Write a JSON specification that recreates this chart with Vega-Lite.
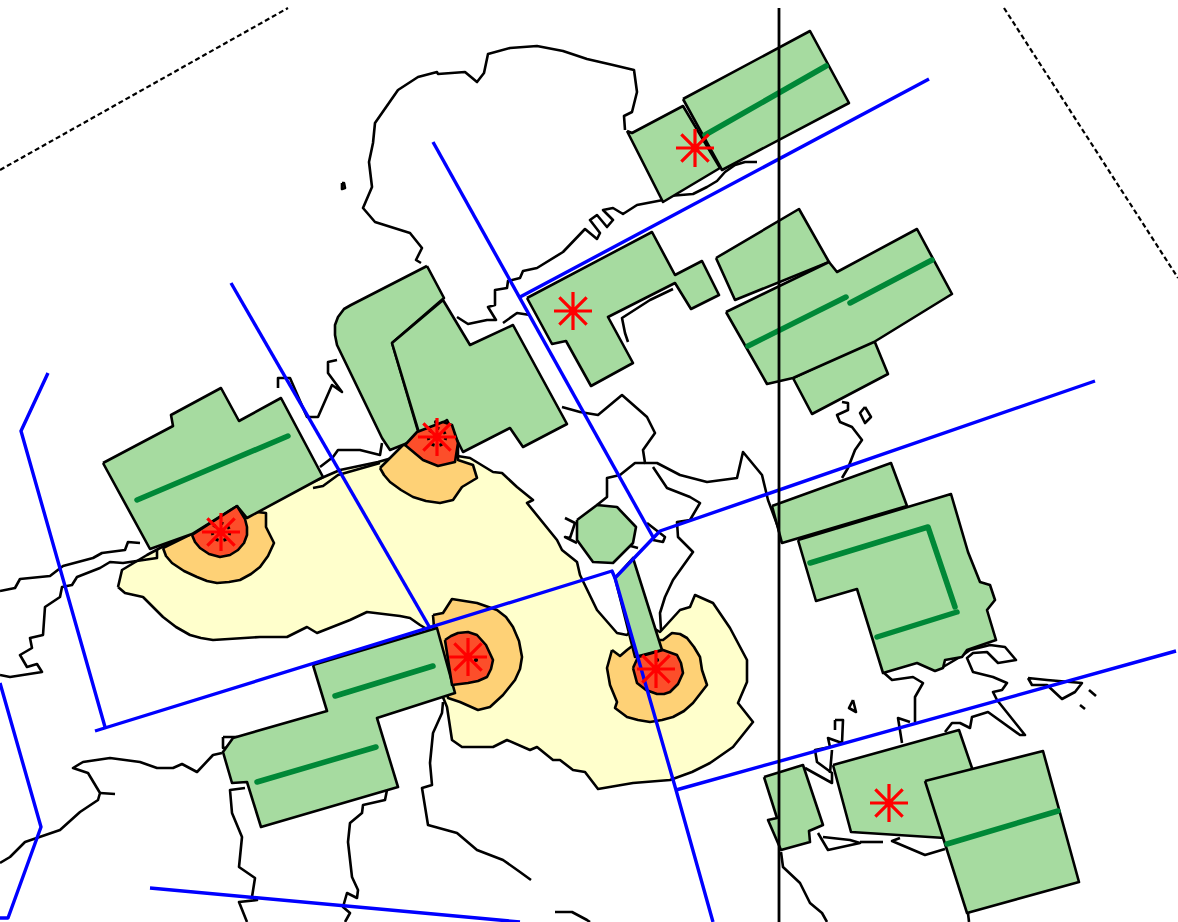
{"$schema":"https://vega.github.io/schema/vega-lite/v6.json","width":1178,"height":922,"padding":0,"autosize":{"type":"none"},"background":"white","config":{"view":{"stroke":null}},
"datasets":{
"coast":[
{"g":1,"i":1,"x":625,"y":130},{"g":1,"i":2,"x":624,"y":116},{"g":1,"i":3,"x":632,"y":112},{"g":1,"i":4,"x":637,"y":92},{"g":1,"i":5,"x":634,"y":70},{"g":1,"i":6,"x":613,"y":65},{"g":1,"i":7,"x":587,"y":59},{"g":1,"i":8,"x":563,"y":51},{"g":1,"i":9,"x":537,"y":46},{"g":1,"i":10,"x":510,"y":48},{"g":1,"i":11,"x":488,"y":54},{"g":1,"i":12,"x":484,"y":73},{"g":1,"i":13,"x":477,"y":82},{"g":1,"i":14,"x":465,"y":72},{"g":1,"i":15,"x":438,"y":74},{"g":1,"i":16,"x":437,"y":72},{"g":1,"i":17,"x":418,"y":77},{"g":1,"i":18,"x":398,"y":90},{"g":1,"i":19,"x":375,"y":123},{"g":1,"i":20,"x":373,"y":143},{"g":1,"i":21,"x":369,"y":162},{"g":1,"i":22,"x":372,"y":187},{"g":1,"i":23,"x":363,"y":208},{"g":1,"i":24,"x":375,"y":222},{"g":1,"i":25,"x":410,"y":233},{"g":1,"i":26,"x":422,"y":248},{"g":1,"i":27,"x":416,"y":260},{"g":1,"i":28,"x":421,"y":263},
{"g":2,"i":1,"x":663,"y":200},{"g":2,"i":2,"x":637,"y":205},{"g":2,"i":3,"x":623,"y":214},{"g":2,"i":4,"x":613,"y":208},{"g":2,"i":5,"x":603,"y":210},{"g":2,"i":6,"x":613,"y":220},{"g":2,"i":7,"x":607,"y":227},{"g":2,"i":8,"x":597,"y":215},{"g":2,"i":9,"x":590,"y":220},{"g":2,"i":10,"x":600,"y":233},{"g":2,"i":11,"x":597,"y":239},{"g":2,"i":12,"x":585,"y":229},{"g":2,"i":13,"x":563,"y":252},{"g":2,"i":14,"x":537,"y":268},{"g":2,"i":15,"x":523,"y":271},{"g":2,"i":16,"x":520,"y":278},{"g":2,"i":17,"x":508,"y":281},{"g":2,"i":18,"x":507,"y":288},{"g":2,"i":19,"x":495,"y":290},{"g":2,"i":20,"x":495,"y":305},{"g":2,"i":21,"x":488,"y":307},{"g":2,"i":22,"x":496,"y":320},{"g":2,"i":23,"x":487,"y":320},{"g":2,"i":24,"x":468,"y":324},{"g":2,"i":25,"x":457,"y":317},
{"g":3,"i":1,"x":503,"y":323},{"g":3,"i":2,"x":517,"y":313},{"g":3,"i":3,"x":530,"y":315},
{"g":4,"i":1,"x":669,"y":196},{"g":4,"i":2,"x":693,"y":194},{"g":4,"i":3,"x":707,"y":187},{"g":4,"i":4,"x":717,"y":181},{"g":4,"i":5,"x":725,"y":172},{"g":4,"i":6,"x":735,"y":165},{"g":4,"i":7,"x":745,"y":162},{"g":4,"i":8,"x":757,"y":162},
{"g":5,"i":1,"x":669,"y":195},{"g":5,"i":2,"x":690,"y":180},{"g":5,"i":3,"x":712,"y":168},
{"g":6,"i":1,"x":673,"y":289},{"g":6,"i":2,"x":650,"y":300},{"g":6,"i":3,"x":622,"y":318},{"g":6,"i":4,"x":625,"y":333},{"g":6,"i":5,"x":628,"y":342},
{"g":7,"i":1,"x":562,"y":407},{"g":7,"i":2,"x":580,"y":412},{"g":7,"i":3,"x":598,"y":415},{"g":7,"i":4,"x":622,"y":395},{"g":7,"i":5,"x":647,"y":417},{"g":7,"i":6,"x":655,"y":433},{"g":7,"i":7,"x":643,"y":450},{"g":7,"i":8,"x":645,"y":463},{"g":7,"i":9,"x":657,"y":463},{"g":7,"i":10,"x":680,"y":475},{"g":7,"i":11,"x":707,"y":482},{"g":7,"i":12,"x":737,"y":478},{"g":7,"i":13,"x":743,"y":452},{"g":7,"i":14,"x":762,"y":475},{"g":7,"i":15,"x":768,"y":500},{"g":7,"i":16,"x":778,"y":527},{"g":7,"i":17,"x":782,"y":543},
{"g":8,"i":1,"x":645,"y":463},{"g":8,"i":2,"x":635,"y":463},{"g":8,"i":3,"x":620,"y":475},{"g":8,"i":4,"x":607,"y":478},{"g":8,"i":5,"x":607,"y":497},{"g":8,"i":6,"x":597,"y":505},
{"g":9,"i":1,"x":653,"y":467},{"g":9,"i":2,"x":667,"y":488},{"g":9,"i":3,"x":690,"y":497},{"g":9,"i":4,"x":700,"y":503},{"g":9,"i":5,"x":690,"y":520},{"g":9,"i":6,"x":677,"y":522},{"g":9,"i":7,"x":678,"y":537},{"g":9,"i":8,"x":693,"y":552},{"g":9,"i":9,"x":673,"y":580},{"g":9,"i":10,"x":665,"y":597},{"g":9,"i":11,"x":660,"y":613},{"g":9,"i":12,"x":661,"y":630},
{"g":10,"i":1,"x":0,"y":591},{"g":10,"i":2,"x":15,"y":588},{"g":10,"i":3,"x":20,"y":579},{"g":10,"i":4,"x":50,"y":576},{"g":10,"i":5,"x":63,"y":566},{"g":10,"i":6,"x":93,"y":558},{"g":10,"i":7,"x":102,"y":553},{"g":10,"i":8,"x":125,"y":550},{"g":10,"i":9,"x":128,"y":542},{"g":10,"i":10,"x":140,"y":543},
{"g":11,"i":1,"x":157,"y":550},{"g":11,"i":2,"x":157,"y":558},{"g":11,"i":3,"x":123,"y":563},{"g":11,"i":4,"x":110,"y":562},{"g":11,"i":5,"x":100,"y":568},{"g":11,"i":6,"x":77,"y":577},{"g":11,"i":7,"x":72,"y":585},{"g":11,"i":8,"x":62,"y":587},{"g":11,"i":9,"x":60,"y":597},{"g":11,"i":10,"x":45,"y":607},{"g":11,"i":11,"x":43,"y":635},{"g":11,"i":12,"x":30,"y":638},{"g":11,"i":13,"x":32,"y":648},{"g":11,"i":14,"x":20,"y":655},{"g":11,"i":15,"x":27,"y":667},{"g":11,"i":16,"x":37,"y":664},{"g":11,"i":17,"x":42,"y":672},{"g":11,"i":18,"x":10,"y":677},{"g":11,"i":19,"x":0,"y":675},
{"g":12,"i":1,"x":320,"y":467},{"g":12,"i":2,"x":333,"y":457},{"g":12,"i":3,"x":338,"y":450},{"g":12,"i":4,"x":360,"y":450},{"g":12,"i":5,"x":380,"y":455},{"g":12,"i":6,"x":382,"y":443},
{"g":13,"i":1,"x":313,"y":488},{"g":13,"i":2,"x":323,"y":486},{"g":13,"i":3,"x":338,"y":475},{"g":13,"i":4,"x":380,"y":463},
{"g":14,"i":1,"x":278,"y":388},{"g":14,"i":2,"x":278,"y":378},{"g":14,"i":3,"x":290,"y":378},{"g":14,"i":4,"x":307,"y":417},{"g":14,"i":5,"x":318,"y":417},{"g":14,"i":6,"x":332,"y":385},{"g":14,"i":7,"x":342,"y":392},{"g":14,"i":8,"x":328,"y":373},{"g":14,"i":9,"x":328,"y":362},{"g":14,"i":10,"x":337,"y":360},
{"g":15,"i":1,"x":223,"y":737},{"g":15,"i":2,"x":237,"y":737},{"g":15,"i":3,"x":235,"y":747},{"g":15,"i":4,"x":223,"y":748},{"g":15,"i":5,"x":223,"y":737},
{"g":16,"i":1,"x":222,"y":753},{"g":16,"i":2,"x":213,"y":755},{"g":16,"i":3,"x":197,"y":772},{"g":16,"i":4,"x":182,"y":764},{"g":16,"i":5,"x":173,"y":768},{"g":16,"i":6,"x":157,"y":768},{"g":16,"i":7,"x":140,"y":762},{"g":16,"i":8,"x":110,"y":758},{"g":16,"i":9,"x":83,"y":762},{"g":16,"i":10,"x":73,"y":768},{"g":16,"i":11,"x":88,"y":773},{"g":16,"i":12,"x":100,"y":793},{"g":16,"i":13,"x":98,"y":800},{"g":16,"i":14,"x":80,"y":812},{"g":16,"i":15,"x":60,"y":830},{"g":16,"i":16,"x":25,"y":842},{"g":16,"i":17,"x":10,"y":857},{"g":16,"i":18,"x":0,"y":863},
{"g":17,"i":1,"x":100,"y":793},{"g":17,"i":2,"x":115,"y":794},
{"g":18,"i":1,"x":245,"y":788},{"g":18,"i":2,"x":230,"y":790},{"g":18,"i":3,"x":232,"y":813},{"g":18,"i":4,"x":242,"y":837},{"g":18,"i":5,"x":239,"y":867},{"g":18,"i":6,"x":255,"y":878},{"g":18,"i":7,"x":252,"y":897},{"g":18,"i":8,"x":257,"y":900},{"g":18,"i":9,"x":239,"y":902},{"g":18,"i":10,"x":247,"y":922},
{"g":19,"i":1,"x":387,"y":790},{"g":19,"i":2,"x":385,"y":800},{"g":19,"i":3,"x":363,"y":805},{"g":19,"i":4,"x":362,"y":813},{"g":19,"i":5,"x":350,"y":823},{"g":19,"i":6,"x":348,"y":842},{"g":19,"i":7,"x":352,"y":877},{"g":19,"i":8,"x":358,"y":890},{"g":19,"i":9,"x":357,"y":898},{"g":19,"i":10,"x":347,"y":893},{"g":19,"i":11,"x":343,"y":907},{"g":19,"i":12,"x":350,"y":913},{"g":19,"i":13,"x":345,"y":922},
{"g":20,"i":1,"x":443,"y":702},{"g":20,"i":2,"x":442,"y":713},{"g":20,"i":3,"x":433,"y":733},{"g":20,"i":4,"x":430,"y":763},{"g":20,"i":5,"x":432,"y":785},{"g":20,"i":6,"x":422,"y":788},{"g":20,"i":7,"x":428,"y":825},{"g":20,"i":8,"x":457,"y":833},{"g":20,"i":9,"x":477,"y":850},{"g":20,"i":10,"x":503,"y":860},{"g":20,"i":11,"x":520,"y":872},{"g":20,"i":12,"x":531,"y":880},
{"g":21,"i":1,"x":555,"y":912},{"g":21,"i":2,"x":572,"y":912},{"g":21,"i":3,"x":587,"y":920},{"g":21,"i":4,"x":590,"y":922},
{"g":22,"i":1,"x":842,"y":402},{"g":22,"i":2,"x":848,"y":403},{"g":22,"i":3,"x":848,"y":410},{"g":22,"i":4,"x":837,"y":415},{"g":22,"i":5,"x":840,"y":422},{"g":22,"i":6,"x":852,"y":427},{"g":22,"i":7,"x":862,"y":440},{"g":22,"i":8,"x":855,"y":450},{"g":22,"i":9,"x":848,"y":468},{"g":22,"i":10,"x":842,"y":478},
{"g":23,"i":1,"x":865,"y":407},{"g":23,"i":2,"x":871,"y":417},{"g":23,"i":3,"x":865,"y":423},{"g":23,"i":4,"x":860,"y":413},{"g":23,"i":5,"x":865,"y":407},
{"g":24,"i":1,"x":883,"y":672},{"g":24,"i":2,"x":892,"y":680},{"g":24,"i":3,"x":913,"y":677},{"g":24,"i":4,"x":923,"y":683},{"g":24,"i":5,"x":915,"y":697},{"g":24,"i":6,"x":915,"y":722},
{"g":25,"i":1,"x":943,"y":667},{"g":25,"i":2,"x":960,"y":657},{"g":25,"i":3,"x":970,"y":650},{"g":25,"i":4,"x":990,"y":645},{"g":25,"i":5,"x":1005,"y":647},{"g":25,"i":6,"x":1016,"y":660},{"g":25,"i":7,"x":998,"y":663},{"g":25,"i":8,"x":987,"y":652},{"g":25,"i":9,"x":973,"y":653},{"g":25,"i":10,"x":967,"y":658},{"g":25,"i":11,"x":973,"y":672},{"g":25,"i":12,"x":993,"y":677},{"g":25,"i":13,"x":1007,"y":683},{"g":25,"i":14,"x":1002,"y":690},{"g":25,"i":15,"x":993,"y":692},{"g":25,"i":16,"x":997,"y":700},{"g":25,"i":17,"x":1025,"y":735},{"g":25,"i":18,"x":1020,"y":735},{"g":25,"i":19,"x":988,"y":712},{"g":25,"i":20,"x":972,"y":717},{"g":25,"i":21,"x":970,"y":728},{"g":25,"i":22,"x":960,"y":723},{"g":25,"i":23,"x":952,"y":723},{"g":25,"i":24,"x":945,"y":732},
{"g":26,"i":1,"x":1028,"y":678},{"g":26,"i":2,"x":1047,"y":680},{"g":26,"i":3,"x":1082,"y":683},{"g":26,"i":4,"x":1075,"y":692},{"g":26,"i":5,"x":1062,"y":699},{"g":26,"i":6,"x":1047,"y":685},{"g":26,"i":7,"x":1032,"y":685},{"g":26,"i":8,"x":1028,"y":678},
{"g":27,"i":1,"x":1089,"y":690},{"g":27,"i":2,"x":1096,"y":696},
{"g":28,"i":1,"x":1080,"y":705},{"g":28,"i":2,"x":1085,"y":709},
{"g":29,"i":1,"x":853,"y":700},{"g":29,"i":2,"x":856,"y":712},{"g":29,"i":3,"x":849,"y":708},{"g":29,"i":4,"x":853,"y":700},
{"g":30,"i":1,"x":835,"y":720},{"g":30,"i":2,"x":843,"y":720},{"g":30,"i":3,"x":842,"y":743},{"g":30,"i":4,"x":828,"y":738},{"g":30,"i":5,"x":830,"y":747},{"g":30,"i":6,"x":815,"y":750},{"g":30,"i":7,"x":817,"y":762},{"g":30,"i":8,"x":832,"y":773},{"g":30,"i":9,"x":832,"y":783},{"g":30,"i":10,"x":805,"y":768},
{"g":31,"i":1,"x":835,"y":730},{"g":31,"i":2,"x":835,"y":720},
{"g":32,"i":1,"x":832,"y":750},{"g":32,"i":2,"x":830,"y":773},
{"g":33,"i":1,"x":902,"y":743},{"g":33,"i":2,"x":898,"y":718},{"g":33,"i":3,"x":910,"y":722},
{"g":34,"i":1,"x":818,"y":833},{"g":34,"i":2,"x":828,"y":850},{"g":34,"i":3,"x":860,"y":843},{"g":34,"i":4,"x":850,"y":840},{"g":34,"i":5,"x":823,"y":837},
{"g":35,"i":1,"x":860,"y":842},{"g":35,"i":2,"x":883,"y":842},
{"g":36,"i":1,"x":900,"y":838},{"g":36,"i":2,"x":892,"y":841},{"g":36,"i":3,"x":925,"y":855},{"g":36,"i":4,"x":945,"y":849},
{"g":37,"i":1,"x":781,"y":852},{"g":37,"i":2,"x":783,"y":867},{"g":37,"i":3,"x":800,"y":883},{"g":37,"i":4,"x":810,"y":903},{"g":37,"i":5,"x":822,"y":913},{"g":37,"i":6,"x":827,"y":922},
{"g":38,"i":1,"x":968,"y":913},{"g":38,"i":2,"x":969,"y":922},
{"g":39,"i":1,"x":565,"y":518},{"g":39,"i":2,"x":575,"y":523},{"g":39,"i":3,"x":570,"y":538},{"g":39,"i":4,"x":565,"y":537},{"g":39,"i":5,"x":577,"y":543},
{"g":40,"i":1,"x":627,"y":545},{"g":40,"i":2,"x":638,"y":548},
{"g":41,"i":1,"x":647,"y":523},{"g":41,"i":2,"x":665,"y":537},{"g":41,"i":3,"x":663,"y":542},{"g":41,"i":4,"x":653,"y":540},
{"g":42,"i":1,"x":342,"y":183},{"g":42,"i":2,"x":344,"y":183},{"g":42,"i":3,"x":345,"y":188},{"g":42,"i":4,"x":342,"y":189},{"g":42,"i":5,"x":342,"y":183}
],
"yellow":[
{"g":1,"i":1,"x":118,"y":587},{"g":1,"i":2,"x":122,"y":570},{"g":1,"i":3,"x":147,"y":555},{"g":1,"i":4,"x":160,"y":548},{"g":1,"i":5,"x":340,"y":470},{"g":1,"i":6,"x":378,"y":462},{"g":1,"i":7,"x":420,"y":450},{"g":1,"i":8,"x":470,"y":458},{"g":1,"i":9,"x":493,"y":472},{"g":1,"i":10,"x":502,"y":473},{"g":1,"i":11,"x":517,"y":487},{"g":1,"i":12,"x":533,"y":500},{"g":1,"i":13,"x":527,"y":503},{"g":1,"i":14,"x":557,"y":540},{"g":1,"i":15,"x":562,"y":550},{"g":1,"i":16,"x":577,"y":562},{"g":1,"i":17,"x":580,"y":575},{"g":1,"i":18,"x":597,"y":610},{"g":1,"i":19,"x":617,"y":633},{"g":1,"i":20,"x":627,"y":635},{"g":1,"i":21,"x":640,"y":620},{"g":1,"i":22,"x":660,"y":632},{"g":1,"i":23,"x":680,"y":610},{"g":1,"i":24,"x":690,"y":607},{"g":1,"i":25,"x":695,"y":595},{"g":1,"i":26,"x":713,"y":603},{"g":1,"i":27,"x":730,"y":628},{"g":1,"i":28,"x":747,"y":660},{"g":1,"i":29,"x":747,"y":682},{"g":1,"i":30,"x":738,"y":703},{"g":1,"i":31,"x":753,"y":722},{"g":1,"i":32,"x":733,"y":747},{"g":1,"i":33,"x":710,"y":763},{"g":1,"i":34,"x":692,"y":772},{"g":1,"i":35,"x":670,"y":780},{"g":1,"i":36,"x":633,"y":783},{"g":1,"i":37,"x":598,"y":789},{"g":1,"i":38,"x":585,"y":772},{"g":1,"i":39,"x":573,"y":770},{"g":1,"i":40,"x":560,"y":760},{"g":1,"i":41,"x":553,"y":760},{"g":1,"i":42,"x":537,"y":747},{"g":1,"i":43,"x":530,"y":750},{"g":1,"i":44,"x":507,"y":740},{"g":1,"i":45,"x":493,"y":747},{"g":1,"i":46,"x":462,"y":747},{"g":1,"i":47,"x":452,"y":740},{"g":1,"i":48,"x":447,"y":707},{"g":1,"i":49,"x":440,"y":690},{"g":1,"i":50,"x":432,"y":632},{"g":1,"i":51,"x":420,"y":625},{"g":1,"i":52,"x":410,"y":618},{"g":1,"i":53,"x":400,"y":616},{"g":1,"i":54,"x":367,"y":612},{"g":1,"i":55,"x":350,"y":620},{"g":1,"i":56,"x":317,"y":633},{"g":1,"i":57,"x":307,"y":627},{"g":1,"i":58,"x":287,"y":637},{"g":1,"i":59,"x":260,"y":637},{"g":1,"i":60,"x":213,"y":640},{"g":1,"i":61,"x":201,"y":638},{"g":1,"i":62,"x":190,"y":635},{"g":1,"i":63,"x":176,"y":627},{"g":1,"i":64,"x":163,"y":617},{"g":1,"i":65,"x":143,"y":597},{"g":1,"i":66,"x":125,"y":593},{"g":1,"i":67,"x":118,"y":587}
],
"orange":[
{"g":1,"i":1,"x":163,"y":548},{"g":1,"i":2,"x":166,"y":556},{"g":1,"i":3,"x":172,"y":563},{"g":1,"i":4,"x":184,"y":571},{"g":1,"i":5,"x":197,"y":577},{"g":1,"i":6,"x":207,"y":581},{"g":1,"i":7,"x":217,"y":583},{"g":1,"i":8,"x":229,"y":582},{"g":1,"i":9,"x":240,"y":580},{"g":1,"i":10,"x":251,"y":574},{"g":1,"i":11,"x":260,"y":567},{"g":1,"i":12,"x":268,"y":556},{"g":1,"i":13,"x":274,"y":543},{"g":1,"i":14,"x":270,"y":535},{"g":1,"i":15,"x":266,"y":527},{"g":1,"i":16,"x":266,"y":513},{"g":1,"i":17,"x":240,"y":510},{"g":1,"i":18,"x":163,"y":548},
{"g":2,"i":1,"x":380,"y":468},{"g":2,"i":2,"x":384,"y":475},{"g":2,"i":3,"x":390,"y":482},{"g":2,"i":4,"x":401,"y":490},{"g":2,"i":5,"x":413,"y":497},{"g":2,"i":6,"x":426,"y":501},{"g":2,"i":7,"x":440,"y":503},{"g":2,"i":8,"x":453,"y":500},{"g":2,"i":9,"x":462,"y":487},{"g":2,"i":10,"x":477,"y":478},{"g":2,"i":11,"x":473,"y":465},{"g":2,"i":12,"x":458,"y":460},{"g":2,"i":13,"x":458,"y":445},{"g":2,"i":14,"x":403,"y":445},{"g":2,"i":15,"x":380,"y":468},
{"g":3,"i":1,"x":433,"y":615},{"g":3,"i":2,"x":443,"y":613},{"g":3,"i":3,"x":452,"y":599},{"g":3,"i":4,"x":477,"y":603},{"g":3,"i":5,"x":497,"y":610},{"g":3,"i":6,"x":506,"y":617},{"g":3,"i":7,"x":513,"y":627},{"g":3,"i":8,"x":519,"y":641},{"g":3,"i":9,"x":522,"y":657},{"g":3,"i":10,"x":520,"y":669},{"g":3,"i":11,"x":515,"y":680},{"g":3,"i":12,"x":503,"y":695},{"g":3,"i":13,"x":490,"y":707},{"g":3,"i":14,"x":478,"y":710},{"g":3,"i":15,"x":460,"y":702},{"g":3,"i":16,"x":448,"y":698},{"g":3,"i":17,"x":435,"y":640},{"g":3,"i":18,"x":433,"y":615},
{"g":4,"i":1,"x":612,"y":650},{"g":4,"i":2,"x":620,"y":656},{"g":4,"i":3,"x":627,"y":650},{"g":4,"i":4,"x":640,"y":640},{"g":4,"i":5,"x":663,"y":640},{"g":4,"i":6,"x":672,"y":633},{"g":4,"i":7,"x":680,"y":634},{"g":4,"i":8,"x":687,"y":638},{"g":4,"i":9,"x":694,"y":647},{"g":4,"i":10,"x":700,"y":657},{"g":4,"i":11,"x":702,"y":670},{"g":4,"i":12,"x":707,"y":685},{"g":4,"i":13,"x":693,"y":703},{"g":4,"i":14,"x":684,"y":711},{"g":4,"i":15,"x":673,"y":717},{"g":4,"i":16,"x":662,"y":720},{"g":4,"i":17,"x":650,"y":722},{"g":4,"i":18,"x":638,"y":720},{"g":4,"i":19,"x":627,"y":717},{"g":4,"i":20,"x":615,"y":708},{"g":4,"i":21,"x":617,"y":702},{"g":4,"i":22,"x":610,"y":685},{"g":4,"i":23,"x":607,"y":668},{"g":4,"i":24,"x":612,"y":650}
],
"green":[
{"g":1,"i":1,"x":103,"y":463},{"g":1,"i":2,"x":173,"y":426},{"g":1,"i":3,"x":171,"y":415},{"g":1,"i":4,"x":221,"y":388},{"g":1,"i":5,"x":239,"y":421},{"g":1,"i":6,"x":281,"y":398},{"g":1,"i":7,"x":323,"y":477},{"g":1,"i":8,"x":247,"y":518},{"g":1,"i":9,"x":237,"y":506},{"g":1,"i":10,"x":192,"y":534},{"g":1,"i":11,"x":150,"y":549},{"g":1,"i":12,"x":103,"y":463},
{"g":2,"i":1,"x":427,"y":266},{"g":2,"i":2,"x":444,"y":298},{"g":2,"i":3,"x":392,"y":343},{"g":2,"i":4,"x":420,"y":438},{"g":2,"i":5,"x":390,"y":450},{"g":2,"i":6,"x":382,"y":438},{"g":2,"i":7,"x":337,"y":345},{"g":2,"i":8,"x":335,"y":335},{"g":2,"i":9,"x":335,"y":325},{"g":2,"i":10,"x":338,"y":317},{"g":2,"i":11,"x":344,"y":309},{"g":2,"i":12,"x":351,"y":305},{"g":2,"i":13,"x":427,"y":266},
{"g":3,"i":1,"x":392,"y":343},{"g":3,"i":2,"x":443,"y":300},{"g":3,"i":3,"x":470,"y":345},{"g":3,"i":4,"x":513,"y":325},{"g":3,"i":5,"x":567,"y":424},{"g":3,"i":6,"x":523,"y":447},{"g":3,"i":7,"x":510,"y":428},{"g":3,"i":8,"x":463,"y":452},{"g":3,"i":9,"x":447,"y":420},{"g":3,"i":10,"x":420,"y":436},{"g":3,"i":11,"x":392,"y":343},
{"g":4,"i":1,"x":527,"y":298},{"g":4,"i":2,"x":652,"y":232},{"g":4,"i":3,"x":675,"y":275},{"g":4,"i":4,"x":702,"y":261},{"g":4,"i":5,"x":719,"y":295},{"g":4,"i":6,"x":691,"y":309},{"g":4,"i":7,"x":675,"y":283},{"g":4,"i":8,"x":608,"y":317},{"g":4,"i":9,"x":633,"y":363},{"g":4,"i":10,"x":591,"y":386},{"g":4,"i":11,"x":566,"y":341},{"g":4,"i":12,"x":552,"y":344},{"g":4,"i":13,"x":527,"y":298},
{"g":5,"i":1,"x":627,"y":131},{"g":5,"i":2,"x":632,"y":133},{"g":5,"i":3,"x":683,"y":106},{"g":5,"i":4,"x":720,"y":168},{"g":5,"i":5,"x":663,"y":202},{"g":5,"i":6,"x":627,"y":131},
{"g":6,"i":1,"x":683,"y":99},{"g":6,"i":2,"x":810,"y":31},{"g":6,"i":3,"x":849,"y":103},{"g":6,"i":4,"x":722,"y":170},{"g":6,"i":5,"x":683,"y":99},
{"g":7,"i":1,"x":716,"y":258},{"g":7,"i":2,"x":799,"y":209},{"g":7,"i":3,"x":829,"y":262},{"g":7,"i":4,"x":735,"y":300},{"g":7,"i":5,"x":716,"y":258},
{"g":8,"i":1,"x":793,"y":378},{"g":8,"i":2,"x":874,"y":340},{"g":8,"i":3,"x":888,"y":374},{"g":8,"i":4,"x":812,"y":414},{"g":8,"i":5,"x":793,"y":378},
{"g":9,"i":1,"x":726,"y":312},{"g":9,"i":2,"x":829,"y":262},{"g":9,"i":3,"x":837,"y":272},{"g":9,"i":4,"x":917,"y":229},{"g":9,"i":5,"x":952,"y":294},{"g":9,"i":6,"x":874,"y":342},{"g":9,"i":7,"x":793,"y":378},{"g":9,"i":8,"x":767,"y":384},{"g":9,"i":9,"x":726,"y":312},
{"g":10,"i":1,"x":798,"y":540},{"g":10,"i":2,"x":951,"y":494},{"g":10,"i":3,"x":968,"y":552},{"g":10,"i":4,"x":980,"y":582},{"g":10,"i":5,"x":990,"y":585},{"g":10,"i":6,"x":995,"y":600},{"g":10,"i":7,"x":987,"y":610},{"g":10,"i":8,"x":996,"y":640},{"g":10,"i":9,"x":967,"y":650},{"g":10,"i":10,"x":962,"y":657},{"g":10,"i":11,"x":945,"y":660},{"g":10,"i":12,"x":943,"y":668},{"g":10,"i":13,"x":935,"y":671},{"g":10,"i":14,"x":917,"y":663},{"g":10,"i":15,"x":883,"y":673},{"g":10,"i":16,"x":857,"y":589},{"g":10,"i":17,"x":816,"y":601},{"g":10,"i":18,"x":798,"y":540},
{"g":11,"i":1,"x":772,"y":506},{"g":11,"i":2,"x":891,"y":463},{"g":11,"i":3,"x":907,"y":506},{"g":11,"i":4,"x":782,"y":543},{"g":11,"i":5,"x":772,"y":506},
{"g":12,"i":1,"x":833,"y":765},{"g":12,"i":2,"x":959,"y":730},{"g":12,"i":3,"x":972,"y":768},{"g":12,"i":4,"x":985,"y":840},{"g":12,"i":5,"x":945,"y":838},{"g":12,"i":6,"x":851,"y":832},{"g":12,"i":7,"x":833,"y":765},
{"g":13,"i":1,"x":925,"y":781},{"g":13,"i":2,"x":1043,"y":751},{"g":13,"i":3,"x":1079,"y":882},{"g":13,"i":4,"x":967,"y":913},{"g":13,"i":5,"x":925,"y":781},
{"g":14,"i":1,"x":764,"y":777},{"g":14,"i":2,"x":803,"y":765},{"g":14,"i":3,"x":823,"y":825},{"g":14,"i":4,"x":809,"y":831},{"g":14,"i":5,"x":810,"y":842},{"g":14,"i":6,"x":781,"y":850},{"g":14,"i":7,"x":768,"y":820},{"g":14,"i":8,"x":777,"y":818},{"g":14,"i":9,"x":764,"y":777},
{"g":15,"i":1,"x":313,"y":665},{"g":15,"i":2,"x":437,"y":628},{"g":15,"i":3,"x":455,"y":693},{"g":15,"i":4,"x":377,"y":718},{"g":15,"i":5,"x":398,"y":787},{"g":15,"i":6,"x":261,"y":827},{"g":15,"i":7,"x":247,"y":782},{"g":15,"i":8,"x":232,"y":783},{"g":15,"i":9,"x":223,"y":752},{"g":15,"i":10,"x":233,"y":738},{"g":15,"i":11,"x":327,"y":711},{"g":15,"i":12,"x":313,"y":665},
{"g":16,"i":1,"x":577,"y":520},{"g":16,"i":2,"x":597,"y":505},{"g":16,"i":3,"x":617,"y":507},{"g":16,"i":4,"x":636,"y":527},{"g":16,"i":5,"x":633,"y":543},{"g":16,"i":6,"x":613,"y":563},{"g":16,"i":7,"x":593,"y":562},{"g":16,"i":8,"x":577,"y":540},{"g":16,"i":9,"x":577,"y":520},
{"g":17,"i":1,"x":615,"y":578},{"g":17,"i":2,"x":633,"y":558},{"g":17,"i":3,"x":662,"y":650},{"g":17,"i":4,"x":635,"y":657},{"g":17,"i":5,"x":615,"y":578}
],
"red":[
{"g":1,"i":1,"x":192,"y":535},{"g":1,"i":2,"x":195,"y":542},{"g":1,"i":3,"x":200,"y":548},{"g":1,"i":4,"x":209,"y":554},{"g":1,"i":5,"x":220,"y":557},{"g":1,"i":6,"x":230,"y":555},{"g":1,"i":7,"x":238,"y":550},{"g":1,"i":8,"x":244,"y":543},{"g":1,"i":9,"x":247,"y":535},{"g":1,"i":10,"x":247,"y":527},{"g":1,"i":11,"x":245,"y":519},{"g":1,"i":12,"x":237,"y":506},{"g":1,"i":13,"x":192,"y":535},
{"g":2,"i":1,"x":405,"y":445},{"g":2,"i":2,"x":423,"y":460},{"g":2,"i":3,"x":438,"y":466},{"g":2,"i":4,"x":455,"y":462},{"g":2,"i":5,"x":458,"y":443},{"g":2,"i":6,"x":452,"y":425},{"g":2,"i":7,"x":443,"y":422},{"g":2,"i":8,"x":417,"y":432},{"g":2,"i":9,"x":405,"y":445},
{"g":3,"i":1,"x":445,"y":640},{"g":3,"i":2,"x":451,"y":636},{"g":3,"i":3,"x":458,"y":633},{"g":3,"i":4,"x":468,"y":632},{"g":3,"i":5,"x":477,"y":635},{"g":3,"i":6,"x":486,"y":645},{"g":3,"i":7,"x":493,"y":660},{"g":3,"i":8,"x":491,"y":669},{"g":3,"i":9,"x":487,"y":677},{"g":3,"i":10,"x":478,"y":681},{"g":3,"i":11,"x":468,"y":683},{"g":3,"i":12,"x":452,"y":685},{"g":3,"i":13,"x":445,"y":640},
{"g":4,"i":1,"x":633,"y":668},{"g":4,"i":2,"x":638,"y":657},{"g":4,"i":3,"x":663,"y":650},{"g":4,"i":4,"x":677,"y":655},{"g":4,"i":5,"x":681,"y":663},{"g":4,"i":6,"x":683,"y":673},{"g":4,"i":7,"x":678,"y":684},{"g":4,"i":8,"x":670,"y":692},{"g":4,"i":9,"x":664,"y":694},{"g":4,"i":10,"x":657,"y":694},{"g":4,"i":11,"x":646,"y":690},{"g":4,"i":12,"x":637,"y":683},{"g":4,"i":13,"x":633,"y":668}
],
"thick":[
{"g":1,"i":1,"x":137,"y":500},{"g":1,"i":2,"x":288,"y":436},
{"g":2,"i":1,"x":335,"y":696},{"g":2,"i":2,"x":433,"y":666},
{"g":3,"i":1,"x":257,"y":782},{"g":3,"i":2,"x":376,"y":747},
{"g":4,"i":1,"x":705,"y":135},{"g":4,"i":2,"x":826,"y":66},
{"g":5,"i":1,"x":748,"y":346},{"g":5,"i":2,"x":846,"y":297},
{"g":6,"i":1,"x":850,"y":303},{"g":6,"i":2,"x":932,"y":260},
{"g":7,"i":1,"x":810,"y":563},{"g":7,"i":2,"x":928,"y":527},{"g":7,"i":3,"x":955,"y":607},
{"g":8,"i":1,"x":877,"y":637},{"g":8,"i":2,"x":957,"y":612},
{"g":9,"i":1,"x":947,"y":844},{"g":9,"i":2,"x":1058,"y":811}
],
"blue":[
{"g":1,"i":1,"x":433,"y":142},{"g":1,"i":2,"x":653,"y":537},
{"g":2,"i":1,"x":929,"y":79},{"g":2,"i":2,"x":520,"y":297},
{"g":3,"i":1,"x":1095,"y":381},{"g":3,"i":2,"x":660,"y":531},{"g":3,"i":3,"x":615,"y":578},{"g":3,"i":4,"x":676,"y":790},{"g":3,"i":5,"x":713,"y":922},
{"g":4,"i":1,"x":676,"y":790},{"g":4,"i":2,"x":1176,"y":651},
{"g":5,"i":1,"x":615,"y":578},{"g":5,"i":2,"x":612,"y":571},{"g":5,"i":3,"x":95,"y":731},
{"g":6,"i":1,"x":231,"y":283},{"g":6,"i":2,"x":430,"y":628},
{"g":7,"i":1,"x":48,"y":373},{"g":7,"i":2,"x":21,"y":431},{"g":7,"i":3,"x":105,"y":727},
{"g":8,"i":1,"x":0,"y":683},{"g":8,"i":2,"x":41,"y":827},{"g":8,"i":3,"x":8,"y":918},{"g":8,"i":4,"x":0,"y":918},
{"g":9,"i":1,"x":150,"y":888},{"g":9,"i":2,"x":520,"y":922}
],
"frame":[
{"g":1,"i":1,"x":0,"y":170},{"g":1,"i":2,"x":288,"y":8},
{"g":2,"i":1,"x":1004,"y":8},{"g":2,"i":2,"x":1178,"y":278}
],
"meridian":[{"g":1,"i":1,"x":779,"y":8},{"g":1,"i":2,"x":779,"y":922}],
"stars":[{"x":221,"y":532},{"x":437,"y":437},{"x":468,"y":657},{"x":656,"y":669},{"x":573,"y":311},{"x":695,"y":148},{"x":889,"y":803}],
"rings":[{"x":221,"y":532},{"x":437,"y":437}],
"dots":[{"x":476,"y":660},{"x":657,"y":660},{"x":436,"y":422}]
},
"encoding":{"x":{"field":"x","type":"quantitative","scale":{"domain":[0,1178],"nice":false,"zero":false},"axis":null},"y":{"field":"y","type":"quantitative","scale":{"domain":[922,0],"nice":false,"zero":false},"axis":null}},
"layer":[
{"data":{"name":"yellow"},"mark":{"type":"line","fill":"#ffffcc","stroke":"black","strokeWidth":2.6,"strokeJoin":"round"},"encoding":{"detail":{"field":"g"},"order":{"field":"i","type":"quantitative"}}},
{"data":{"name":"coast"},"mark":{"type":"line","stroke":"black","strokeWidth":2.6,"strokeJoin":"round"},"encoding":{"detail":{"field":"g"},"order":{"field":"i","type":"quantitative"}}},
{"data":{"name":"orange"},"mark":{"type":"line","fill":"#fed176","stroke":"black","strokeWidth":2.6,"strokeJoin":"round"},"encoding":{"detail":{"field":"g"},"order":{"field":"i","type":"quantitative"}}},
{"data":{"name":"green"},"mark":{"type":"line","fill":"#a6dba0","stroke":"black","strokeWidth":2.6,"strokeJoin":"round"},"encoding":{"detail":{"field":"g"},"order":{"field":"i","type":"quantitative"}}},
{"data":{"name":"red"},"mark":{"type":"line","fill":"#fc4e2a","stroke":"black","strokeWidth":2.6,"strokeJoin":"round"},"encoding":{"detail":{"field":"g"},"order":{"field":"i","type":"quantitative"}}},
{"data":{"name":"thick"},"mark":{"type":"line","stroke":"#008837","strokeWidth":5.5,"strokeCap":"round","strokeJoin":"round"},"encoding":{"detail":{"field":"g"},"order":{"field":"i","type":"quantitative"}}},
{"data":{"name":"rings"},"mark":{"type":"point","shape":"circle","filled":false,"stroke":"black","strokeWidth":3,"strokeDash":[3,5],"size":300,"opacity":1}},
{"data":{"name":"dots"},"mark":{"type":"point","shape":"circle","filled":true,"fill":"black","size":18,"opacity":1}},
{"data":{"name":"blue"},"mark":{"type":"line","stroke":"#0000ff","strokeWidth":3.4,"strokeJoin":"round"},"encoding":{"detail":{"field":"g"},"order":{"field":"i","type":"quantitative"}}},
{"data":{"name":"stars"},"mark":{"type":"point","shape":"M-1,0L1,0M0,-1L0,1M-0.72,-0.72L0.72,0.72M-0.72,0.72L0.72,-0.72","filled":false,"stroke":"#ff0000","strokeWidth":3.2,"size":1440,"opacity":1}},
{"data":{"name":"meridian"},"mark":{"type":"line","stroke":"black","strokeWidth":2.8},"encoding":{"detail":{"field":"g"},"order":{"field":"i","type":"quantitative"}}},
{"data":{"name":"frame"},"mark":{"type":"line","stroke":"black","strokeWidth":2.2,"strokeDash":[5,3]},"encoding":{"detail":{"field":"g"},"order":{"field":"i","type":"quantitative"}}}
]}
